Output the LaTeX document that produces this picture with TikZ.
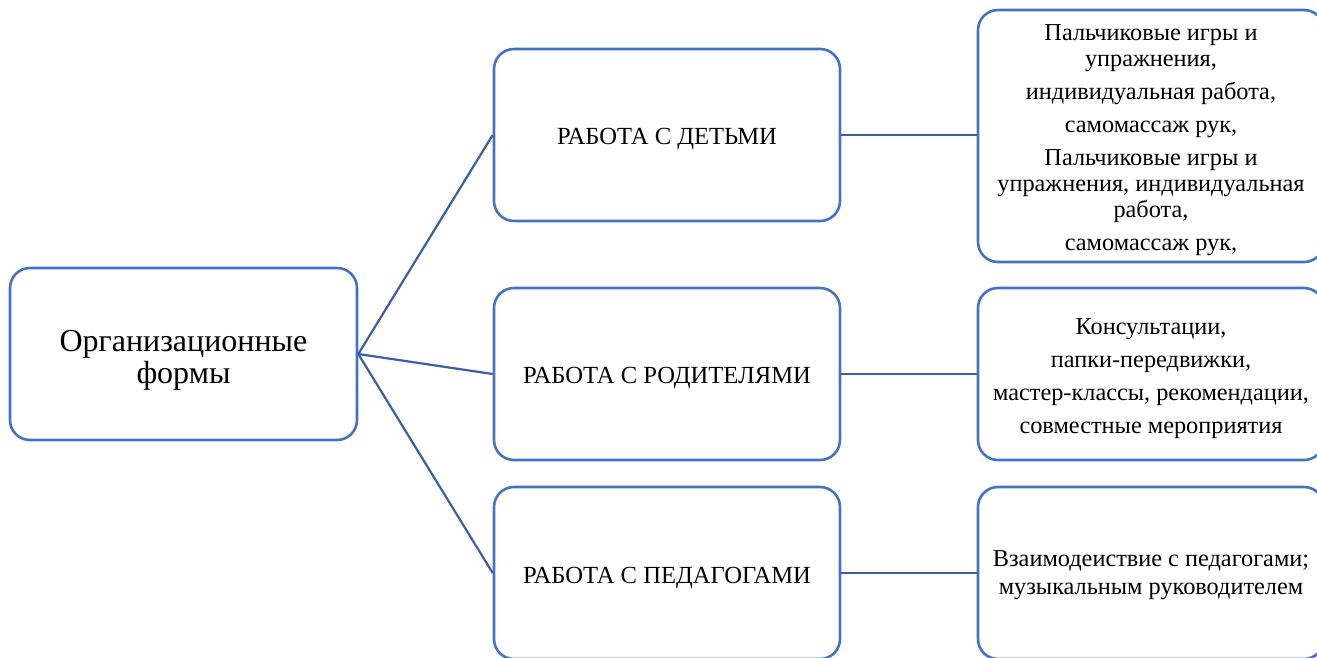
\documentclass[tikz,border=0pt]{standalone}
\usepackage{fontspec}
\setmainfont{Liberation Serif}
\definecolor{boxblue}{HTML}{4472C4}
\definecolor{lineblue}{HTML}{3B5EA6}
\begin{document}
\begin{tikzpicture}[x=1pt,y=-1pt,
  box/.style={draw=boxblue,line width=2.6pt,rounded corners=20pt,fill=white,
    minimum width=346pt,minimum height=172pt,inner sep=0pt},
  conn/.style={draw=lineblue,line width=2.2pt},
  lefttext/.style={align=center,inner sep=0pt,font=\fontsize{32}{32}\selectfont},
  midtext/.style={align=center,inner sep=0pt,font=\fontsize{24.6}{26}\selectfont},
  righttext/.style={align=center,inner sep=0pt,font=\fontsize{24.3}{26}\selectfont}]
\useasboundingbox (0,0) rectangle (1317,657);
% boxes
\node[box,minimum width=347pt] (l) at (183.5,354) {};
\node[box] (m1) at (667,135) {};
\node[box] (m2) at (667,374) {};
\node[box] (m3) at (667,573) {};
\node[box,minimum height=252pt] (r1) at (1151,136) {};
\node[box] (r2) at (1151,374) {};
\node[box] (r3) at (1151,573) {};
% texts
\node[lefttext] (lt) at (183.5,360) {Организационные\\формы};
\node[midtext] (m1t) at (667,139) {РАБОТА С ДЕТЬМИ};
\node[midtext] (m2t) at (667,378) {РАБОТА С РОДИТЕЛЯМИ};
\node[midtext] (m3t) at (667,578) {РАБОТА С ПЕДАГОГАМИ};
\node[righttext] (r1t) at (1151,140.5) {Пальчиковые игры и\\упражнения,\\[7pt]индивидуальная работа,\\[7pt]самомассаж рук,\\[7pt]Пальчиковые игры и\\упражнения, индивидуальная\\работа,\\[7pt]самомассаж рук,};
\node[righttext] (r2t) at (1151,379) {Консультации,\\[7pt]папки-передвижки,\\[7pt]мастер-классы, рекомендации,\\[7pt]совместные мероприятия};
\node[righttext,font=\fontsize{24.3}{28.5}\selectfont] (r3t) at (1151,575) {Взаимодеиствие с педагогами;\\музыкальным руководителем};
% connectors
\draw[conn] (l.east) -- (m1.west);
\draw[conn] (l.east) -- (m2.west);
\draw[conn] (l.east) -- (m3.west);
\draw[conn] (m1.east) -- (r1.west |- m1.east);
\draw[conn] (m2.east) -- (r2.west);
\draw[conn] (m3.east) -- (r3.west);
\end{tikzpicture}
\end{document}
